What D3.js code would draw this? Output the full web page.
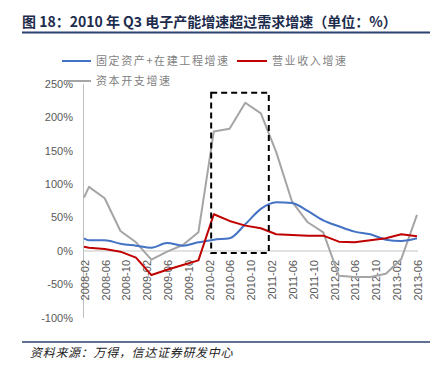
<!DOCTYPE html>
<html><head><meta charset="utf-8">
<script src="https://cdn.jsdelivr.net/npm/d3@7"></script>
<style>
html,body{margin:0;padding:0;background:#fff;}
svg{display:block;}
</style></head>
<body>
<svg id="chart" width="436" height="376"></svg>
<script>
const titleText = "图 18：2010 年 Q3 电子产能增速超过需求增速（单位：%）";
const sourceText = "资料来源：万得，信达证券研发中心";
const dates = ["2008-02","2008-03","2008-06","2008-09","2008-12","2009-03","2009-06","2009-09","2009-12","2010-03","2010-06","2010-09","2010-12","2011-03","2011-06","2011-09","2011-12","2012-03","2012-06","2012-09","2012-12","2013-03","2013-06"];
const fixedAsset = [19,16,16,11,8,5,12,8,13,17,19,40,63,73,72,60,46,37,29,25,17,15,19];
const revenue = [6.5,5,3,-1,-10,-36,-28,-21,-14,55,45,38,34,25,24,23,23,14,13,16,19,25,22];
const capex = [80,96,79,30,13,-13,-1,9,28,179,183,222,206,148,74,43,28,-37,-39,-39,-34,-12,54];
const seriesNames = ["固定资产+在建工程增速","营业收入增速","资本开支增速"];
const seriesColors = ["#4472C4","#C00000","#A5A5A5"];
const xTickLabels = ["2008-02","2008-06","2008-10","2009-02","2009-06","2009-10","2010-02","2010-06","2010-10","2011-02","2011-06","2011-10","2012-02","2012-06","2012-10","2013-02","2013-06"];
const yTicks = [-100,-50,0,50,100,150,200,250];
const boxRange = ["2010-03","2011-01"];
const boxValues = [-3,237];

const parse = d3.timeParse("%Y-%m");
const svg = d3.select("#chart");

const x = d3.scaleTime().domain([parse("2008-02"), parse("2013-06")]).range([84, 417]);
const y = d3.scaleLinear().domain([-100, 250]).range([317.8, 84]);

// title
svg.append("text").attr("x", 22).attr("y", 27)
  .attr("font-family", "'Noto Sans CJK SC', sans-serif").attr("font-weight", "bold")
  .attr("font-size", 14).attr("fill", "#1d2c4c").text(titleText);
svg.append("line").attr("x1", 22).attr("x2", 430).attr("y1", 32.5).attr("y2", 32.5)
  .attr("stroke", "#2b4170").attr("stroke-width", 2);

// y axis labels
svg.append("g").selectAll("text").data(yTicks).join("text")
  .attr("x", 73).attr("y", d => y(d)).attr("dy", "0.35em")
  .attr("text-anchor", "end").attr("font-family", "'Liberation Sans', Arial, sans-serif")
  .attr("font-size", 11).attr("fill", "#595959").text(d => d + "%");

// zero line
svg.append("line").attr("x1", 83).attr("x2", 418).attr("y1", y(0)).attr("y2", y(0))
  .attr("stroke", "#d9d9d9").attr("stroke-width", 1.3);
// vertical axis
svg.append("line").attr("x1", 83.5).attr("x2", 83.5).attr("y1", y(250)).attr("y2", y(-100))
  .attr("stroke", "#bfbfbf").attr("stroke-width", 1);

// x labels
svg.append("g").selectAll("text").data(xTickLabels).join("text")
  .attr("transform", d => `translate(${x(parse(d)) + 1},260) rotate(-90)`)
  .attr("dy", "0.35em").attr("text-anchor", "end")
  .attr("font-family", "'Liberation Sans', Arial, sans-serif")
  .attr("font-size", 11).attr("fill", "#595959").text(d => d);

// lines
const allSeries = [fixedAsset, revenue, capex];
const drawOrder = [2, 0, 1];
drawOrder.forEach(i => {
  const vals = allSeries[i];
  const line = d3.line()
    .x((d, k) => x(parse(dates[k])))
    .y(d => y(d))
    .curve(i === 0 ? d3.curveMonotoneX : d3.curveLinear);
  svg.append("path").datum(vals).attr("d", line)
    .attr("fill", "none").attr("stroke", seriesColors[i])
    .attr("stroke-width", 2).attr("stroke-linejoin", "round");
});

// dashed box
const step = x(parse("2010-04")) - x(parse("2010-03"));
const bx0 = x(parse(boxRange[0])) - step / 2;
const bx1 = x(parse(boxRange[1])) + step / 2;
svg.append("rect").attr("x", bx0).attr("y", y(boxValues[1]))
  .attr("width", bx1 - bx0).attr("height", y(boxValues[0]) - y(boxValues[1]))
  .attr("fill", "none").attr("stroke", "#000").attr("stroke-width", 2)
  .attr("stroke-dasharray", "6,4");

// legend
const legendPos = [[62, 61], [237, 61], [66, 81]];
const legendLineEnd = [91, 267, 91];
seriesNames.forEach((name, i) => {
  const [lx, ly] = legendPos[i];
  svg.append("line").attr("x1", lx).attr("x2", legendLineEnd[i]).attr("y1", ly).attr("y2", ly)
    .attr("stroke", seriesColors[i]).attr("stroke-width", 2);
  svg.append("text").attr("x", legendLineEnd[i] + 5).attr("y", ly).attr("dy", "0.35em")
    .attr("font-family", "'Noto Sans CJK SC', sans-serif").attr("font-size", 11)
    .attr("letter-spacing", 1.6).attr("fill", "#7f7f7f").text(name);
});

// footer
svg.append("line").attr("x1", 22).attr("x2", 430).attr("y1", 342).attr("y2", 342)
  .attr("stroke", "#2b4170").attr("stroke-width", 1.5);
svg.append("text").attr("x", 30).attr("y", 357)
  .attr("font-family", "'Noto Sans CJK SC', sans-serif").attr("font-style", "italic")
  .attr("font-size", 12).attr("letter-spacing", 0.7).attr("fill", "#222").text(sourceText);
</script>
</body></html>
